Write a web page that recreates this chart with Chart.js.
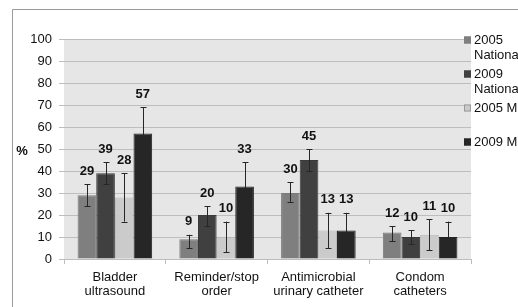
<!DOCTYPE html>
<html>
<head>
<meta charset="utf-8">
<script src="https://cdn.jsdelivr.net/npm/chart.js@4"></script>
<style>
html,body{margin:0;padding:0;background:#fff;}
canvas{display:block;}
</style>
</head>
<body>
<canvas id="c" width="518" height="307"></canvas>
<script>
const categories = [["Bladder","ultrasound"],["Reminder/stop","order"],["Antimicrobial","urinary catheter"],["Condom","catheters"]];
const seriesNames = ["2005 National", "2009 National", "2005 Michigan", "2009 Michigan"];
const legendLines = [["2005","National"],["2009","National"],["2005 Michigan"],["2009 Michigan"]];
const nat2005 = [29, 9, 30, 12];
const nat2009 = [39, 20, 45, 10];
const mi2005 = [28, 10, 13, 11];
const mi2009 = [57, 33, 13, 10];
const nat2005Low = [24, 5, 26, 8];
const nat2005High = [34, 11, 35, 15];
const nat2009Low = [34, 15, 40, 7];
const nat2009High = [44, 24, 50, 13];
const mi2005Low = [17, 3, 5, 4];
const mi2005High = [39, 17, 21, 18];
const mi2009Low = [45, 22, 5, 2];
const mi2009High = [69, 44, 21, 17];
const yTicks = [0,10,20,30,40,50,60,70,80,90,100];
const yTitle = "%";

const colors = ["#7f7f7f", "#404040", "#cbcbcb", "#262626"];
const borders = ["#7a7a7a", "#3a3a3a", "#b8b8b8", "#222222"];
const values = [nat2005, nat2009, mi2005, mi2009];
const lows = [nat2005Low, nat2009Low, mi2005Low, mi2009Low];
const highs = [nat2005High, nat2009High, mi2005High, mi2009High];

const FONT = "'Liberation Sans', Arial, sans-serif";

const decor = {
  id: 'decor',
  beforeDraw(chart) {
    const ctx = chart.ctx, a = chart.chartArea;
    ctx.save();
    ctx.fillStyle = '#fff';
    ctx.fillRect(0, 0, chart.width, chart.height);
    ctx.strokeStyle = '#9a9a9a';
    ctx.lineWidth = 1;
    ctx.beginPath();
    ctx.moveTo(12.5, chart.height);
    ctx.lineTo(12.5, 9.5);
    ctx.lineTo(chart.width, 9.5);
    ctx.stroke();
    ctx.fillStyle = '#e6e6e6';
    ctx.fillRect(a.left, a.top, a.right - a.left, a.bottom - a.top);
    ctx.restore();
  },
  afterDatasetsDraw(chart) {
    const ctx = chart.ctx, y = chart.scales.y;
    ctx.save();
    chart.data.datasets.forEach((ds, i) => {
      const meta = chart.getDatasetMeta(i);
      meta.data.forEach((bar, j) => {
        const yt = y.getPixelForValue(highs[i][j]);
        const yb = y.getPixelForValue(lows[i][j]);
        const x = Math.round(bar.x) + 0.5;
        ctx.strokeStyle = '#262626';
        ctx.lineWidth = 1;
        ctx.beginPath();
        ctx.moveTo(x, yt); ctx.lineTo(x, yb);
        ctx.moveTo(x - 3, Math.round(yt) + 0.5); ctx.lineTo(x + 3, Math.round(yt) + 0.5);
        ctx.moveTo(x - 3, Math.round(yb) + 0.5); ctx.lineTo(x + 3, Math.round(yb) + 0.5);
        ctx.stroke();
        ctx.fillStyle = '#111';
        ctx.font = "bold 13px " + FONT;
        ctx.textAlign = 'center';
        ctx.textBaseline = 'middle';
        ctx.fillText(String(values[i][j]), bar.x, yt - 13);
      });
    });
    ctx.restore();
  },
  afterDraw(chart) {
    const ctx = chart.ctx;
    ctx.save();
    ctx.fillStyle = '#111';
    ctx.font = "bold 13px " + FONT;
    ctx.textAlign = 'center';
    ctx.textBaseline = 'middle';
    ctx.fillText(yTitle, 22, 151);
    // legend
    ctx.font = "13px " + FONT;
    ctx.textAlign = 'left';
    legendLines.forEach((lines, i) => {
      const top = 40 + i * 34;
      ctx.fillStyle = colors[i];
      ctx.fillRect(464, top - 3.5, 7, 7);
      ctx.strokeStyle = i === 2 ? '#9a9a9a' : colors[i];
      ctx.lineWidth = 1;
      ctx.strokeRect(464.5, top - 3, 6, 6);
      ctx.fillStyle = '#111';
      lines.forEach((t, k) => ctx.fillText(t, 474, top + k * 15));
    });
    ctx.restore();
  }
};

new Chart(document.getElementById('c'), {
  type: 'bar',
  data: {
    labels: categories,
    datasets: seriesNames.map((n, i) => ({
      label: n,
      data: values[i],
      backgroundColor: colors[i],
      borderColor: borders[i],
      borderWidth: 1,
      categoryPercentage: 0.733,
      barPercentage: 1.0
    }))
  },
  options: {
    responsive: false,
    devicePixelRatio: 1,
    animation: false,
    layout: { padding: { left: 0, right: 47, top: 39, bottom: 0 } },
    plugins: { legend: { display: false }, tooltip: { enabled: false } },
    scales: {
      x: {
        offset: true,
        grid: { display: true, drawOnChartArea: false, drawTicks: true, tickLength: 5, color: '#bdbdbd', offset: true },
        border: { display: true, color: '#bdbdbd' },
        ticks: { color: '#111', font: { family: FONT, size: 13, lineHeight: 1.1 }, padding: 6, maxRotation: 0, autoSkip: false },
        afterFit(s) { s.height = 48; }
      },
      y: {
        min: 0, max: 100,
        afterBuildTicks(s) { s.ticks = yTicks.map(v => ({ value: v })); },
        grid: { color: '#bdbdbd', tickLength: 5, tickColor: '#bdbdbd' },
        border: { display: false },
        ticks: { color: '#111', font: { family: FONT, size: 13 }, padding: 7 },
        afterFit(s) { s.width = 64; }
      }
    }
  },
  plugins: [decor]
});
</script>
</body>
</html>
